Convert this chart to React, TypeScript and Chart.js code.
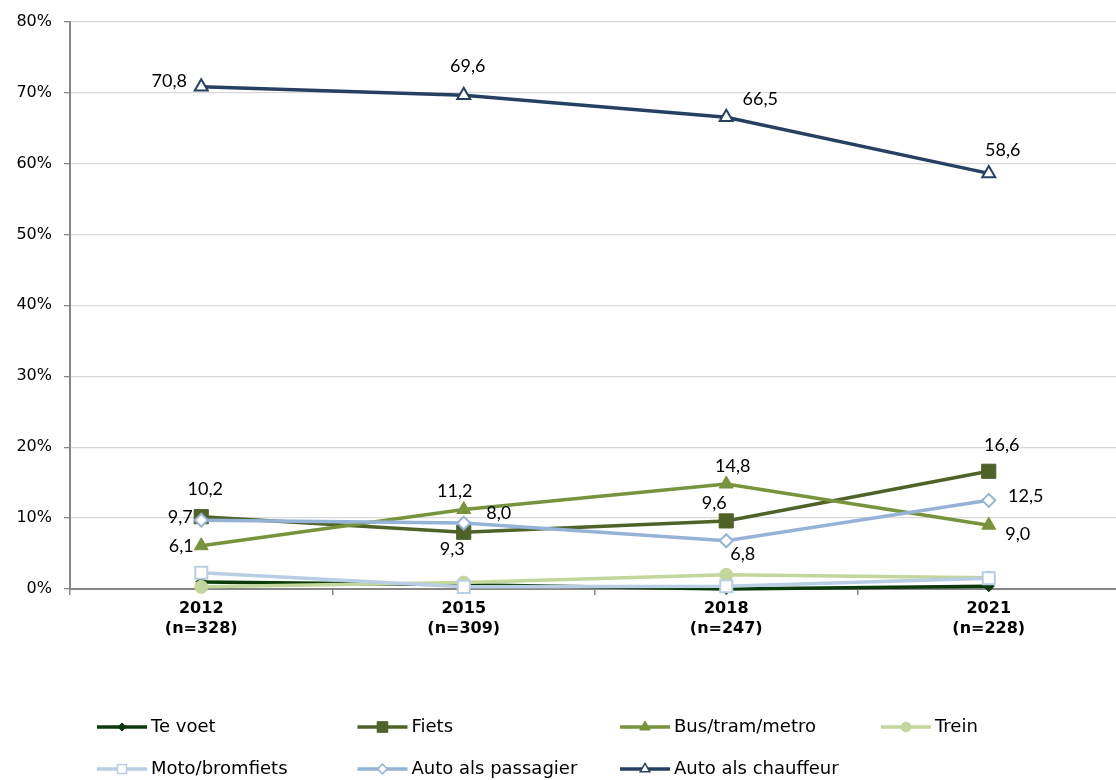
import React, { useEffect, useRef } from "react";
import { Chart, registerables } from "chart.js";
import { drawPoint } from "chart.js/helpers";

Chart.register(...registerables);

// ---- data ----
const categories: string[][] = [
  ["2012", "(n=328)"],
  ["2015", "(n=309)"],
  ["2018", "(n=247)"],
  ["2021", "(n=228)"],
];
const teVoet = [1.0, 0.6, 0.0, 0.4];
const fiets = [10.2, 8.0, 9.6, 16.6];
const busTramMetro = [6.1, 11.2, 14.8, 9.0];
const trein = [0.3, 0.9, 2.0, 1.6];
const motoBromfiets = [2.3, 0.3, 0.4, 1.5];
const autoPassagier = [9.7, 9.3, 6.8, 12.5];
const autoChauffeur = [70.8, 69.6, 66.5, 58.6];
const seriesNames = [
  "Te voet",
  "Fiets",
  "Bus/tram/metro",
  "Trein",
  "Moto/bromfiets",
  "Auto als passagier",
  "Auto als chauffeur",
];
const yMin = 0;
const yMax = 80;
const yStep = 10;

// ---- styles ----
type Style = {
  color: string;
  pointStyle: any;
  radius: number;
  open: boolean;
  labels: boolean;
  offsets?: [number, number][];
};
const styles: Style[] = [
  { color: "#0b3b0b", pointStyle: "rectRot", radius: 5.5, open: false, labels: false },
  { color: "#4f6228", pointStyle: "rect", radius: 10, open: false, labels: true,
    offsets: [[4, -27], [35, -19], [-12, -17.5], [13, -26]] },
  { color: "#77933c", pointStyle: "triangle", radius: 8, open: false, labels: true,
    offsets: [[-20, 0], [-9, -18], [6.5, -18], [29, 9]] },
  { color: "#c3d69b", pointStyle: "circle", radius: 6.5, open: false, labels: false },
  { color: "#b9cde5", pointStyle: "rect", radius: 8.5, open: true, labels: false },
  { color: "#95b3d7", pointStyle: "rectRot", radius: 6.5, open: true, labels: true,
    offsets: [[-21, -3.5], [-11.5, 26], [16.5, 13], [37, -4]] },
  { color: "#254061", pointStyle: "triangle", radius: 7.5, open: true, labels: true,
    offsets: [[-32, -6], [4, -29.5], [34, -18], [14, -23]] },
];
const seriesValues = [teVoet, fiets, busTramMetro, trein, motoBromfiets, autoPassagier, autoChauffeur];

const legendCols = [97, 357.5, 620, 881];
const legendRows = [727, 769];

const dataLabelPlugin = {
  id: "dataLabels",
  afterDatasetsDraw(chart: any) {
    const ctx = chart.ctx;
    ctx.save();
    ctx.font = "18px Lato, 'Open Sans', sans-serif";
    ctx.fillStyle = "#000000";
    ctx.textAlign = "center";
    ctx.textBaseline = "middle";
    chart.data.datasets.forEach((ds: any, i: number) => {
      const st = styles[i];
      if (!st.labels) return;
      const meta = chart.getDatasetMeta(i);
      meta.data.forEach((pt: any, j: number) => {
        const v = ds.data[j] as number;
        const [dx, dy] = st.offsets![j];
        ctx.fillText(v.toFixed(1).replace(".", ","), pt.x + dx, pt.y + dy);
      });
    });
    ctx.restore();
  },
};

const legendPlugin = {
  id: "customLegend",
  afterDraw(chart: any) {
    const ctx = chart.ctx;
    ctx.save();
    chart.data.datasets.forEach((ds: any, i: number) => {
      const st = styles[i];
      const col = i % 4;
      const row = Math.floor(i / 4);
      const x = legendCols[col];
      const y = legendRows[row];
      ctx.strokeStyle = st.color;
      ctx.lineWidth = 3.5;
      ctx.beginPath();
      ctx.moveTo(x, y);
      ctx.lineTo(x + 50, y);
      ctx.stroke();
      ctx.fillStyle = st.open ? "#ffffff" : st.color;
      ctx.strokeStyle = st.color;
      ctx.lineWidth = st.open ? 1.5 : 1;
      drawPoint(ctx, { pointStyle: st.pointStyle, radius: st.radius * 0.75, rotation: 0, borderWidth: ctx.lineWidth } as any, x + 25, y);
      ctx.fillStyle = "#000000";
      ctx.font = "18px 'DejaVu Sans', sans-serif";
      ctx.textAlign = "left";
      ctx.textBaseline = "middle";
      ctx.fillText(ds.label, x + 54, y);
    });
    ctx.restore();
  },
};

export default function App() {
  const ref = useRef<HTMLCanvasElement | null>(null);
  useEffect(() => {
    if (!ref.current) return;
    const datasets = seriesValues.map((vals, i) => {
      const st = styles[i];
      return {
        label: seriesNames[i],
        data: vals,
        borderColor: st.color,
        backgroundColor: st.color,
        borderWidth: 3.5,
        tension: 0,
        pointStyle: st.pointStyle,
        pointRadius: st.radius,
        pointHoverRadius: st.radius,
        pointBackgroundColor: st.open ? "#ffffff" : st.color,
        pointBorderColor: st.color,
        pointBorderWidth: st.open ? 2 : 1,
        order: seriesValues.length - i,
        clip: false as any,
      };
    });
    const chart = new Chart(ref.current, {
      type: "line",
      data: { labels: categories as any, datasets },
      options: {
        animation: false,
        responsive: false,
        devicePixelRatio: 1,
        layout: { autoPadding: false, padding: { top: 20, right: 0, left: 0, bottom: 130 } },
        plugins: {
          legend: { display: false },
          tooltip: { enabled: false },
        },
        scales: {
          x: {
            offset: true,
            afterFit: (s: any) => {
              s.height = 61;
              s.paddingLeft = 0;
              s.paddingRight = 0;
            },
            grid: {
              display: true,
              offset: true,
              drawOnChartArea: false,
              drawTicks: true,
              tickLength: 6,
              color: "#868686",
              lineWidth: 1.5,
            },
            border: { display: true, color: "#868686", width: 2 },
            ticks: {
              color: "#000000",
              padding: 3,
              font: { family: "'DejaVu Sans', sans-serif", size: 16, weight: "bold", lineHeight: 1.3 },
              maxRotation: 0,
              autoSkip: false,
            },
          },
          y: {
            min: yMin,
            max: yMax,
            afterFit: (s: any) => {
              s.width = 70;
            },
            grid: {
              color: "#d9d9d9",
              lineWidth: 1.3,
              tickColor: "#868686",
              tickLength: 6,
              drawTicks: true,
            },
            border: { display: true, color: "#868686", width: 2 },
            ticks: {
              stepSize: yStep,
              color: "#000000",
              padding: 12,
              font: { family: "'DejaVu Sans', sans-serif", size: 16 },
              callback: (v: any) => `${v}%`,
            },
          },
        },
      },
      plugins: [dataLabelPlugin, legendPlugin],
    });
    return () => chart.destroy();
  }, []);
  return (
    <div style={{ position: "absolute", left: 0, top: 0, width: 1116, height: 780, overflow: "hidden", background: "#ffffff" }}>
      <canvas ref={ref} width={1120} height={780} style={{ display: "block", width: 1120, height: 780 }} />
    </div>
  );
}
